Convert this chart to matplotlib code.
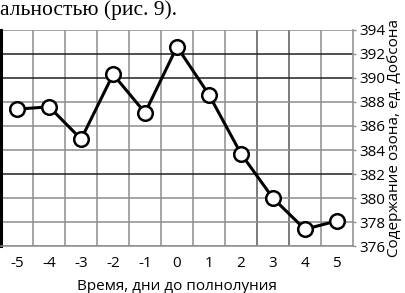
import matplotlib
matplotlib.use('Agg')
import matplotlib.pyplot as plt
import numpy as np

# данные: содержание озона по дням до полнолуния
days = [-5, -4, -3, -2, -1, 0, 1, 2, 3, 4, 5]
ozone = [387.4, 387.6, 384.9, 390.3, 387.1, 392.6, 388.6, 383.7, 380.0, 377.4, 378.1]
yticks = [376, 378, 380, 382, 384, 386, 388, 390, 392, 394]

plt.rcParams['font.family'] = ['Open Sans', 'DejaVu Sans']

fig = plt.figure(figsize=(4.06, 2.93), dpi=100)
ax = fig.add_axes([0.003, 0.160, 0.866, 0.738])

ax.plot(days, ozone, '-o', color='black', linewidth=2.2, markersize=10.5,
        markerfacecolor='white', markeredgecolor='black', markeredgewidth=1.8, zorder=3)

ax.set_xlim(-5.5, 5.5)
ax.set_ylim(376, 394)
ax.set_xticks(days)
ax.set_xticklabels([str(d) for d in days])
ax.set_xticks(np.arange(-4.5, 5.0, 1.0), minor=True)
ax.set_yticks(yticks)
ax.yaxis.tick_right()
ax.yaxis.set_label_position('right')

ax.tick_params(axis='x', which='both', length=0, labelsize=11, pad=7)
ax.tick_params(axis='y', length=2, width=1, color='#909090', labelsize=11, pad=3)

ax.grid(True, axis='y', which='major', color='#8c8c8c', linewidth=1.1)
ax.grid(True, axis='x', which='minor', color='#8c8c8c', linewidth=1.1)
# несколько линий сетки на скане темнее
for line, val in zip(ax.get_ygridlines(), yticks):
    if val in (382, 390, 392):
        line.set_color('#202020')
ax.axvline(2.5, color='#202020', linewidth=1.1, zorder=1)
ax.axvline(3.5, color='#202020', linewidth=1.1, zorder=1)

for s in ['top', 'bottom', 'right']:
    ax.spines[s].set_color('#8c8c8c')
    ax.spines[s].set_linewidth(1.1)
ax.spines['top'].set_visible(False)
ax.spines['left'].set_color('black')
ax.spines['left'].set_linewidth(2.2)

ax.set_xlabel('Время, дни до полнолуния', fontsize=11, labelpad=6)
ax.set_ylabel('Содержание озона, ед. Добсона', fontsize=11, labelpad=1)

fig.text(0.0, 1 - 15.5 / 293, 'альностью (рис. 9).', fontsize=15.5, va='baseline', ha='left',
         family=['Liberation Serif', 'DejaVu Serif'])

fig.savefig('out.png', dpi=100)
